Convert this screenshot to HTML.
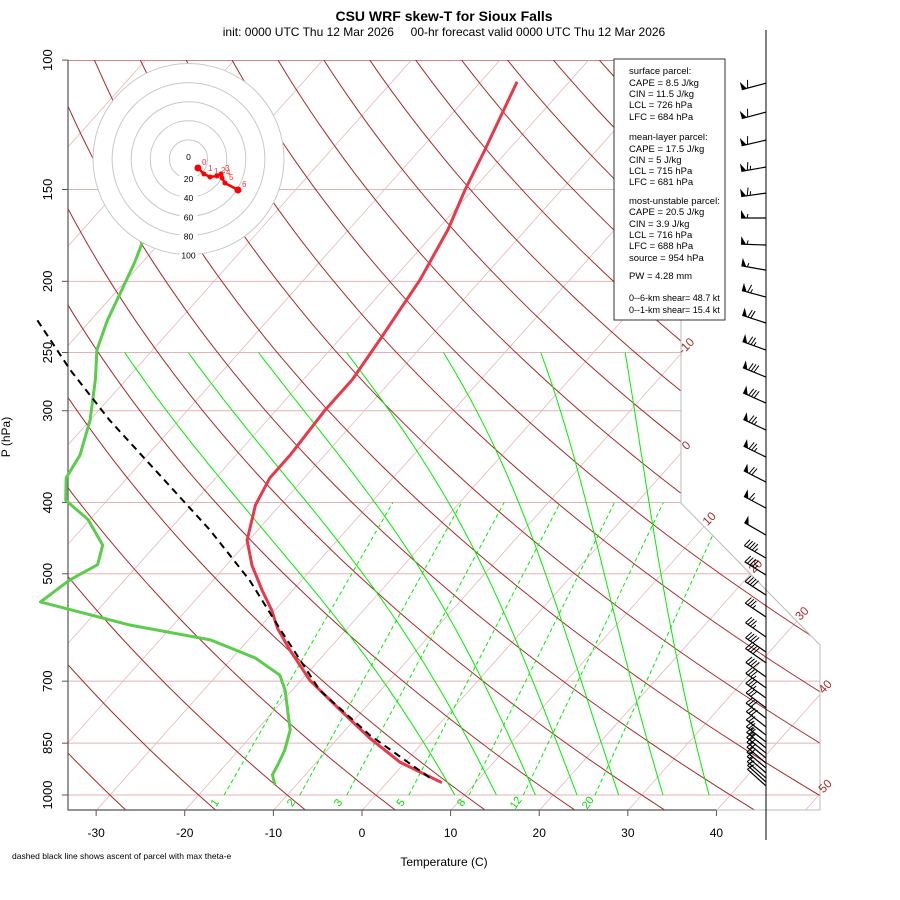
<!DOCTYPE html>
<html><head><meta charset="utf-8"><style>
body{margin:0;background:#fff}
svg{display:block;font-family:"Liberation Sans",sans-serif}
</style></head><body>
<svg id="chart" width="900" height="900" viewBox="0 0 900 900">
<defs><clipPath id="plotclip"><polygon points="68,60 681,60 681,503 820,645 820,810 68,810"/></clipPath></defs>
<text x="444" y="21" text-anchor="middle" font-size="14" font-weight="bold">CSU WRF skew-T for Sioux Falls</text>
<text x="444" y="36" text-anchor="middle" font-size="12" style="white-space:pre" xml:space="preserve">init: 0000 UTC Thu 12 Mar 2026     00-hr forecast valid 0000 UTC Thu 12 Mar 2026</text>
<g id="bg" clip-path="url(#plotclip)"></g>
<g id="fg"></g>
<g id="hodo"></g>
<g id="barbs"></g>
<g font-size="9.5">
<rect x="614" y="59" width="111" height="261" fill="#fff" stroke="#333" stroke-width="1"/>
<text x="629" y="74">surface parcel:</text>
<text x="629" y="86">CAPE = 8.5 J/kg</text>
<text x="629" y="97">CIN = 11.5 J/kg</text>
<text x="629" y="108">LCL = 726 hPa</text>
<text x="629" y="120">LFC = 684 hPa</text>
<text x="629" y="140">mean-layer parcel:</text>
<text x="629" y="152">CAPE = 17.5 J/kg</text>
<text x="629" y="163">CIN = 5 J/kg</text>
<text x="629" y="174">LCL = 715 hPa</text>
<text x="629" y="185">LFC = 681 hPa</text>
<text x="629" y="204">most-unstable parcel:</text>
<text x="629" y="215">CAPE = 20.5 J/kg</text>
<text x="629" y="227">CIN = 3.9 J/kg</text>
<text x="629" y="238">LCL = 716 hPa</text>
<text x="629" y="249">LFC = 688 hPa</text>
<text x="629" y="261">source = 954 hPa</text>
<text x="629" y="279">PW =  4.28 mm</text>
<text x="629" y="301" font-size="9">0--6-km shear= 48.7 kt</text>
<text x="629" y="313" font-size="9">0--1-km shear= 15.4 kt</text>
</g>
<text x="10" y="437" font-size="12" text-anchor="middle" transform="rotate(-90 10 437)">P (hPa)</text>
<text x="444" y="866" font-size="12" text-anchor="middle">Temperature (C)</text>
<text x="12" y="859" font-size="8.5">dashed black line shows ascent of parcel with max theta-e</text>
<line x1="766" y1="30" x2="766" y2="840" stroke="#000" stroke-width="1"/>
</svg>
<script>
// ---- data ----
const presTicks = [100,150,200,250,300,400,500,700,850,1000];
const tempTicks = [-30,-20,-10,0,10,20,30,40];
const isoLabels = [-10,0,10,20,30,40,50];
const mixRatios = [1,2,3,5,8,12,20];
const moistStarts = [8.9,13.6,18,22.7,27.4,32.4,37.6];
const tempP = [107,133,150,170,199,240,272,299,345,370,403,450,487,526,560,593,635,698,766,837,902,962];
const tempT = [-55.9,-52.6,-50.9,-48.8,-46.9,-45.4,-44.5,-44.5,-43.9,-43.9,-42.8,-40.2,-37.1,-33.5,-30.4,-27.9,-24.3,-19.0,-12.6,-6.4,-0.6,6.2];
const dewP = [177,188,206,226,248,272,309,345,370,397,422,457,486,510,546,587,615,651,687,720,816,869,910,939,969];
const dewT = [-82.0,-80.9,-79.5,-78.1,-76.3,-73.5,-70.0,-67.6,-66.9,-64.7,-60.2,-56.0,-54.6,-56.2,-57.3,-44.9,-34.3,-27.4,-22.9,-20.8,-16.2,-14.8,-14.1,-13.7,-12.4];
const parcelP = [226,264,309,367,436,510,596,720,829,948];
const parcelT = [-86.0,-77.3,-67.8,-56.6,-45.4,-35.9,-27.4,-16.9,-6.7,4.4];
const windP = [107.5,117.7,128.5,139.8,151.7,164,178.5,193.1,210.1,227.9,248.1,270,292.9,318.7,346.9,375.1,407,442.9,476,502,534.5,572.6,609.6,639,661,691,715,738,761,786,808,829,847,863,877,891,905,919,933,948,960,972];
const windDir = [255,255,257,260,262,270,272,280,285,288,290,292,294,295,296,297,298,300,300,302,303,304,305,305,305,306,306,306,307,307,308,308,308,309,309,310,310,310,311,311,312,312];
const windSpd = [60,60,60,65,65,55,55,55,65,70,75,80,80,75,75,70,65,50,45,45,40,35,35,40,40,40,35,35,30,30,30,25,25,25,20,20,20,20,15,15,15,10];
const hodoU = [9.9,16.2,22.5,29.8,34.0,35.1,38.2,51.8];
const hodoV = [-9.4,-15.7,-18.8,-17.8,-15.7,-19.9,-25.1,-32.5];
const hodoLabels = ['0','1','1','2','3','4','5','6'];
const hodoRings = [20,40,60,80,100];

// ---- axis functions ----
function ys(p){return 132.182-44.0611*Math.log10(p);}
function Y(p){return 795-16.68*ys(p);}
function X(T,p){return 375.9+16.41*(0.54*T+0.907*ys(p));}
const NS='http://www.w3.org/2000/svg';
function mk(tag,attrs,parent){const e=document.createElementNS(NS,tag);for(const k in attrs)e.setAttribute(k,attrs[k]);parent.appendChild(e);return e;}
function pathFrom(pts){return pts.map((q,i)=>(i?'L':'M')+q[0].toFixed(1)+','+q[1].toFixed(1)).join('');}
const bg=document.getElementById('bg'), fg=document.getElementById('fg');
function logRange(p1,p2,n){const a=[];for(let i=0;i<=n;i++)a.push(p1*Math.pow(p2/p1,i/n));return a;}

// isobars
presTicks.forEach(p=>{
  const l=mk('line',{x1:68,x2:820,y1:Y(p),y2:Y(p),stroke:p===100?'#b04040':'#e3b3b3','stroke-width':1},bg);
  
  
});
// isotherms
for(let T=-140;T<=60;T+=10){
  const l=mk('line',{x1:X(T,1050),y1:Y(1050),x2:X(T,100),y2:Y(100),stroke:'#e6b8b8','stroke-width':0.8},bg);
  
  
}
// dry adiabats
for(let th=-30;th<=180;th+=10){
  const pts=logRange(1050,100,60).map(p=>{const T=(th+273.15)*Math.pow(p/1000,0.2857)-273.15;return [X(T,p),Y(p)];});
  const e=mk('path',{d:pathFrom(pts),fill:'none',stroke:'#a52a2a','stroke-width':1},bg);
  
  
}
// moist adiabats
moistStarts.forEach(T0=>{
  let T=T0+273.15,pts=[];
  for(let p=1000;p>=250;p-=5){
    const Td=(T0+273.15)*Math.pow(p/1000,0.2857);
    const Tm=Td+0.77*(T-Td);
    pts.push([X(Tm-273.15,p),Y(p)]);
    const es=6.112*Math.exp(17.67*(T-273.15)/(T-29.65));
    const rs=0.622*es/(p-es);
    const d=(287*T+2.5e6*rs)/(p*(1005+2.5e6*2.5e6*rs*0.622/(287*T*T)));
    T-=d*5;
  }
  const e=mk('path',{d:pathFrom(pts),fill:'none',stroke:'#00ee00','stroke-width':1},bg);
  
  
});
// mixing ratio lines
function tdw(w,p){const e=w*p/(622+w);const l=Math.log(e/6.112);return 243.5*l/(17.67-l);}
mixRatios.forEach(w=>{
  const e=mk('line',{x1:X(tdw(w,1000),1000),y1:Y(1000),x2:X(tdw(w,400),400),y2:Y(400),stroke:'#00ee00','stroke-width':1,'stroke-dasharray':'4,3'},bg);
  
  
  const x=X(tdw(w,1050),1050);
  const t=mk('text',{x:x,y:806,fill:'#00dd00','font-size':11,'text-anchor':'middle',transform:`rotate(-55 ${x} 803)`},fg);
  t.textContent=String(w);
  
  
});
// boundary
let b=mk('polyline',{points:'681,60 681,503 820,645 820,810 716,810',fill:'none',stroke:'#bbb','stroke-width':1},fg);


b=mk('polyline',{points:'68,60 68,810 716,810',fill:'none',stroke:'#555','stroke-width':1.2},fg);


// y ticks
presTicks.forEach(p=>{
  const y=Y(p);
  const l=mk('line',{x1:62,x2:68,y1:y,y2:y,stroke:'#555'},fg);
  
  
  const t=mk('text',{x:52,y:y,'font-size':13,'text-anchor':'middle',transform:`rotate(-90 52 ${y})`},fg);
  t.textContent=String(p);
  
  
});
// x ticks
tempTicks.forEach(T=>{
  const x=X(T,1050);
  const l=mk('line',{x1:x,x2:x,y1:810,y2:816,stroke:'#555'},fg);
  
  
  const t=mk('text',{x:x,y:837,'font-size':12,'text-anchor':'middle'},fg);
  t.textContent=String(T);
  
  
});
// isotherm labels at right boundary
function boundX(y){if(y<=503)return 681;if(y<=645)return 681+(y-503)*(139/142);return 820;}
isoLabels.forEach(T=>{
  let lo=100,hi=1050;
  for(let i=0;i<40;i++){const m=Math.sqrt(lo*hi);if(X(T,m)>boundX(Y(m)))lo=m;else hi=m;}
  const x=X(T,hi)+8,y=Y(hi)-5;
  const t=mk('text',{x:x,y:y,fill:'#a52a2a','font-size':12,'text-anchor':'middle',transform:`rotate(-45 ${x} ${y})`},fg);
  t.textContent=String(T);
  
  
});
// profiles
function prof(P,T,attrs,name){
  const e=mk('path',Object.assign({d:pathFrom(P.map((p,i)=>[X(T[i],p),Y(p)])),fill:'none'},attrs),fg);
  
  
}
prof(dewP,dewT,{stroke:'#5ccc4c','stroke-width':3,'stroke-linejoin':'round'},'dewpoint-line');
prof(tempP,tempT,{stroke:'#e8384a','stroke-width':3,'stroke-linejoin':'round'},'temperature-line');
prof(parcelP,parcelT,{stroke:'#000','stroke-width':2,'stroke-dasharray':'7,5'},'parcel-ascent-line');

// hodograph
const hg=document.getElementById('hodo'),cx=188.5,cy=159,sc=19.1/20;
mk('circle',{cx:cx,cy:cy,r:100*sc,fill:'#fff',stroke:'none'},hg);
hodoRings.forEach(r=>{
  const c=mk('circle',{cx:cx,cy:cy,r:r*sc,fill:'none',stroke:'#c8c8c8','stroke-width':1},hg);
  
  
});
[0].concat(hodoRings).forEach(r=>{
  const y=cy+r*sc+(r?4:1);
  mk('rect',{x:cx-9,y:y-8,width:18,height:9,fill:'#fff'},hg);
  const t=mk('text',{x:cx,y:y,'font-size':8.5,'text-anchor':'middle'},hg);
  t.textContent=String(r);
  
  
});
const hp=hodoU.map((u,i)=>[cx+u*sc,cy-hodoV[i]*sc]);
let hl=mk('path',{d:pathFrom(hp),fill:'none',stroke:'#f00','stroke-width':2.5},hg);


hp.forEach((q,i)=>{
  const c=mk('circle',{cx:q[0],cy:q[1],r:(i===0||i===hp.length-1)?3.5:2.5,fill:'#f00'},hg);
  
  
  const t=mk('text',{x:q[0]+4,y:q[1]-3,'font-size':8,fill:'#f33'},hg);
  t.textContent=hodoLabels[i];
  
  
});

// wind barbs
const bgp=document.getElementById('barbs');
windP.forEach((p,i)=>{
  const ax=766,ay=Y(p),d=windDir[i]*Math.PI/180,L=25;
  const ux=Math.sin(d),uy=-Math.cos(d);
  const tx=ax+ux*L,ty=ay+uy*L;
  const px=-uy,py=ux;
  const g=mk('g',{},bgp);
  
  
  mk('line',{x1:ax,y1:ay,x2:tx,y2:ty,stroke:'#000','stroke-width':1.2},g);
  let s=windSpd[i],pos=0;
  const along=k=>[tx-ux*k,ty-uy*k];
  while(s>=50){const a=along(pos),c=along(pos+5);
    mk('polygon',{points:`${a[0]},${a[1]} ${c[0]},${c[1]} ${a[0]+px*8},${a[1]+py*8}`,fill:'#000'},g);pos+=6;s-=50;}
  while(s>=10){const a=along(pos);mk('line',{x1:a[0],y1:a[1],x2:a[0]+px*8-ux*2,y2:a[1]+py*8-uy*2,stroke:'#000','stroke-width':1},g);pos+=3;s-=10;}
  if(s>=5){const a=along(pos);mk('line',{x1:a[0],y1:a[1],x2:a[0]+px*4-ux*1,y2:a[1]+py*4-uy*1,stroke:'#000','stroke-width':1},g);}
});
</script>
</body></html>
